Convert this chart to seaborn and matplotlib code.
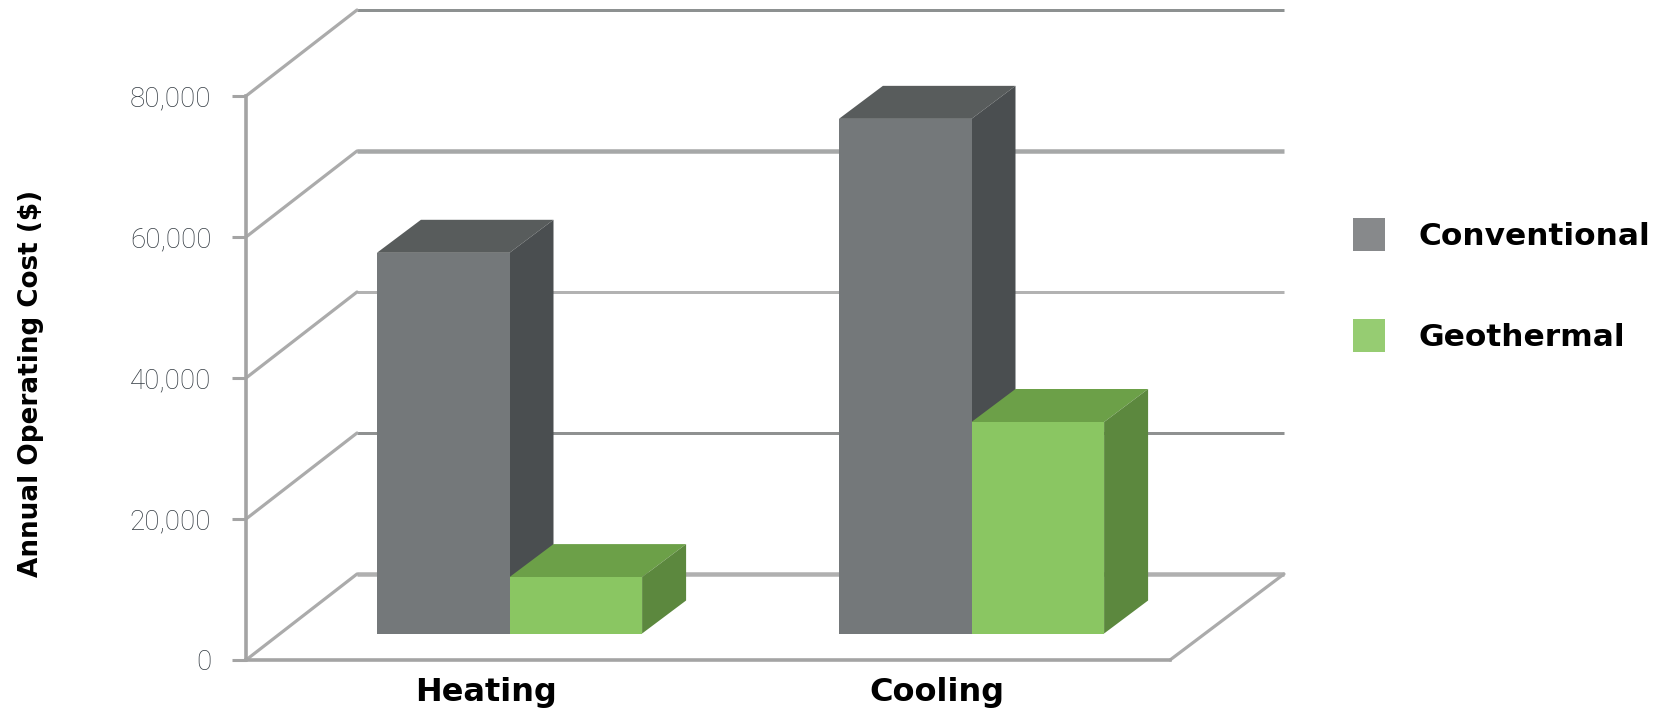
import matplotlib
matplotlib.use("Agg")
import matplotlib.pyplot as plt
from matplotlib.lines import Line2D
from matplotlib.patches import Patch, Polygon
from matplotlib.transforms import Affine2D, IdentityTransform
import pandas as pd
import seaborn as sns

# Annual operating cost per system and load type
categories = ["Heating", "Cooling"]
systems = ["Conventional", "Geothermal"]
conventional_cost = [54000, 73000]
geothermal_cost = [8000, 30000]
y_ticks = [0, 20000, 40000, 60000, 80000]

W, H = 1668, 712
FRONT_L, FRONT_R, FRONT_B, FRONT_T = 246, 1170, 660, 96
WALL_DX, WALL_DY = 111, 86       # floor depth, px
WALL_OVERHANG = 3                # back lines run slightly past the floor corner
BAR_DX, BAR_DY = 32.5, 26.5      # bars stand this far back from the front edge
CUBE_DX, CUBE_DY = 44, 33        # depth of each bar, px

FACE = {"Conventional": "#74787a", "Geothermal": "#8ac662"}
TOP = {"Conventional": "#585c5c", "Geothermal": "#6ca048"}
SIDE = {"Conventional": "#4a4e50", "Geothermal": "#5c883e"}
SWATCH = {"Conventional": "#87898b", "Geothermal": "#96cc72"}

GRID_STYLE = {
    0: ("#b0b0b0", 4.5),
    20000: ("#8f9191", 3),
    40000: ("#b2b2b2", 3),
    60000: ("#a6a8a8", 4.5),
    80000: ("#8d9191", 3),
}

sns.set_theme(style="white")
plt.rcParams["font.family"] = ["DejaVu Sans"]

df = pd.DataFrame({
    "category": categories * 2,
    "system": [systems[0]] * 2 + [systems[1]] * 2,
    "cost": conventional_cost + geothermal_cost,
})

fig = plt.figure(figsize=(W / 100, H / 100), dpi=100, facecolor="white")


def axes_box(left, right, bottom, top):
    return [left / W, 1 - bottom / H, (right - left) / W, (bottom - top) / H]


ax = fig.add_axes(axes_box(FRONT_L, FRONT_R, FRONT_B, FRONT_T))
ax_bars = fig.add_axes(axes_box(FRONT_L + BAR_DX, FRONT_R + BAR_DX,
                                FRONT_B - BAR_DY, FRONT_T - BAR_DY))
ax_bars.patch.set_alpha(0)

# Front faces of the bars
sns.barplot(data=df, x="category", y="cost", hue="system", order=categories,
            hue_order=systems, palette=FACE, width=0.574, saturation=1,
            errorbar=None, legend=False, ax=ax_bars, linewidth=0, zorder=3)

for a in (ax, ax_bars):
    a.set_xlim(-0.5, 1.5)
    a.set_ylim(0, 80000)
ax_bars.axis("off")

# Wall and floor lines
to_px = ax.transData.transform
for v in y_ticks:
    x0, y0 = to_px((-0.5, v))
    x1, _ = to_px((1.5, v))
    color, width_px = GRID_STYLE[v]
    ax.add_line(Line2D([x0 + WALL_DX, x1 + WALL_DX + WALL_OVERHANG],
                       [y0 + WALL_DY, y0 + WALL_DY],
                       transform=IdentityTransform(), color=color,
                       lw=width_px * 0.72, clip_on=False, solid_capstyle="butt", zorder=1))
    ax.add_line(Line2D([x0, x0 + WALL_DX], [y0, y0 + WALL_DY],
                       transform=IdentityTransform(), color="#ababab",
                       lw=2.3, clip_on=False, solid_capstyle="round", zorder=1))
x1, y0 = to_px((1.5, 0))
ax.add_line(Line2D([x1, x1 + WALL_DX + WALL_OVERHANG], [y0, y0 + WALL_DY],
                   transform=IdentityTransform(), color="#ababab",
                   lw=2.3, clip_on=False, zorder=1))

# Top and side faces, worked out from each front face
to_px_bars = ax_bars.transData.transform
fronts = list(ax_bars.patches)
for rect, system in zip(fronts, [s for s in systems for _ in categories]):
    (xl, yb) = to_px_bars((rect.get_x(), 0))
    (xr, yt) = to_px_bars((rect.get_x() + rect.get_width(), rect.get_height()))
    top = [(xl, yt), (xr, yt), (xr + CUBE_DX, yt + CUBE_DY), (xl + CUBE_DX, yt + CUBE_DY)]
    side = [(xr, yb), (xr + CUBE_DX, yb + CUBE_DY), (xr + CUBE_DX, yt + CUBE_DY), (xr, yt)]
    z = 2 + 0.1 * systems.index(system)
    for pts, col in ((top, TOP[system]), (side, SIDE[system])):
        ax_bars.add_patch(Polygon(pts, closed=True, transform=IdentityTransform(),
                                  facecolor=col, edgecolor="none", clip_on=False, zorder=z))

# Axes furniture
sns.despine(ax=ax, top=True, right=True)
ax.patch.set_alpha(0)
for side_name in ("left", "bottom"):
    ax.spines[side_name].set_color("#a4a4a4")
    ax.spines[side_name].set_linewidth(2.6)
ax.set_yticks(y_ticks, [f"{v:,}" for v in y_ticks])
ax.set_xticks(range(len(categories)), categories)
ax.tick_params(axis="y", length=10, width=2.2, color="#a4a4a4", pad=15,
               labelsize=20, labelcolor="#333b42", left=True)
for label in ax.get_yticklabels():
    label.set_fontfamily(["Roboto", "DejaVu Sans"])
    label.set_fontweight("light")
ax.tick_params(axis="x", length=0, pad=12, labelsize=23, labelcolor="black")
for label, nudge in zip(ax.get_xticklabels(), (9.5, -2)):
    label.set_fontweight("bold")
    label.set_transform(label.get_transform() + Affine2D().translate(nudge, 0))
ax.set_xlabel("")
ax.set_ylabel("Annual Operating Cost ($)", fontsize=18.9, fontweight="bold", color="black")
ax.yaxis.set_label_coords(-0.2185, 0.491)

handles = [Patch(facecolor=SWATCH[s], edgecolor="none", label=s) for s in systems]
fig.legend(handles=handles, loc="upper left", bbox_to_anchor=(1325 / W, 1 - 190 / H),
           frameon=False, handlelength=1.02, handleheight=1.25,
           handletextpad=1.056, labelspacing=2.18, prop={"size": 22.5, "weight": "bold"},
           labelcolor="black")

fig.savefig("out.png", dpi=100, facecolor="white")
